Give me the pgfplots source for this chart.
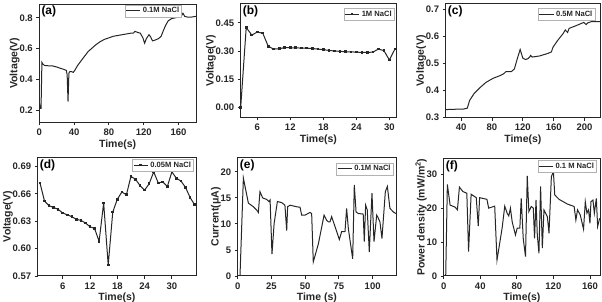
\documentclass[border=0pt]{standalone}
\usepackage{pgfplots}
\pgfplotsset{compat=1.18}
\usepackage{fontspec}
\setmainfont{Liberation Sans}
\tikzset{plabel/.style={anchor=north west, font=\fontsize{12}{14}\selectfont\bfseries, inner sep=2pt}}
\pgfplotsset{
  panel/.style={
    scale only axis, anchor=south west,
    axis line style={line width=1pt, black!85},
    tick style={line width=0.9pt, black!85},
    tick align=outside, xtick pos=bottom, ytick pos=left,
    major tick length=3pt,
    tick label style={font=\fontsize{9.5}{11}\selectfont\bfseries, black!85},
    label style={font=\fontsize{10.5}{12}\selectfont\bfseries, black!85},
    xlabel style={yshift=3pt},
    ylabel style={yshift=-7pt},
    /pgf/number format/assume math mode=true,
    legend style={anchor=north east, draw=gray!60, line width=0.4pt,
      font=\fontsize{7.6}{8}\selectfont\bfseries, inner sep=0.5pt, fill=white, text=black!85},
    legend cell align=left,
  },
  lineleg/.style={legend image code/.code={\draw[##1] (0cm,0cm) -- (0.5cm,0cm);}},
  markleg/.style={legend image code/.code={\draw[mark repeat=2,mark phase=2,##1] plot coordinates {(0cm,0cm)(0.25cm,0cm)(0.5cm,0cm)};}},
  ln/.style={black!85, line width=1pt},
}
\begin{document}
\begin{tikzpicture}
\useasboundingbox (0,0) rectangle (602pt,302pt);
% (a)
\begin{axis}[panel, lineleg, at={(39.3pt,179.7pt)}, width=156.7pt, height=118.3pt,
  xmin=0, xmax=180, ymin=0.12, ymax=0.89,
  xtick={0,40,80,120,160}, ytick={0.2,0.4,0.6,0.8},
  yticklabel style={/pgf/number format/.cd, fixed, fixed zerofill, precision=1},
  xlabel={Time(s)}, ylabel={Voltage(V)}, legend style={at={(0.91,0.995)}}]
\addplot[ln] coordinates {(0,0.25)(1,0.21)(2,0.21)(3,0.51)(4,0.50)(6,0.49)(10,0.488)(15,0.487)(20,0.48)(25,0.47)(28,0.465)(30,0.46)(31,0.458)(32,0.43)(33,0.255)(34,0.44)(35,0.45)(37,0.45)(39,0.445)(41,0.46)(44,0.49)(48,0.52)(52,0.55)(56,0.58)(60,0.60)(65,0.625)(70,0.645)(75,0.66)(80,0.67)(85,0.68)(90,0.685)(95,0.69)(100,0.695)(105,0.70)(108,0.70)(110,0.712)(113,0.705)(116,0.70)(119,0.67)(121,0.635)(123,0.665)(126,0.69)(128,0.675)(130,0.65)(133,0.655)(137,0.665)(140,0.68)(142,0.71)(145,0.75)(148,0.78)(152,0.795)(156,0.80)(160,0.805)(163,0.81)(165,0.83)(167,0.81)(170,0.805)(175,0.805)(180,0.81)};
\addlegendentry{0.1M NaCl}
\node[plabel] at (rel axis cs:0,1) {(a)};
\end{axis}
% (b)
\begin{axis}[panel, markleg, at={(240.7pt,184.7pt)}, width=155.3pt, height=113.3pt,
  xmin=3, xmax=31.2, ymin=-0.053, ymax=0.55,
  xtick={6,12,18,24,30}, ytick={0,0.15,0.30,0.45},
  yticklabel style={/pgf/number format/.cd, fixed, fixed zerofill, precision=2},
  xlabel={Time(s)}, ylabel={Voltage(V)}, legend style={at={(0.99,0.965)}}]
\addplot[ln, mark=square*, mark size=0.8pt] coordinates {(3,0.00)(4,0.425)(5,0.385)(6,0.40)(7,0.395)(8,0.325)(9,0.31)(10,0.312)(11,0.318)(12,0.317)(13,0.317)(14,0.315)(15,0.315)(16,0.313)(17,0.31)(18,0.307)(19,0.303)(20,0.30)(21,0.298)(22,0.296)(23,0.295)(24,0.294)(25,0.292)(26,0.292)(27,0.294)(28,0.31)(29,0.302)(30,0.252)(31,0.31)};
\addlegendentry{1M NaCl}
\node[plabel] at (rel axis cs:0,1) {(b)};
\end{axis}
% (c)
\begin{axis}[panel, lineleg, at={(445.7pt,184.3pt)}, width=154.3pt, height=113.7pt,
  xmin=20, xmax=220, ymin=0.3, ymax=0.72,
  xtick={40,80,120,160,200}, ytick={0.3,0.4,0.5,0.6,0.7},
  yticklabel style={/pgf/number format/.cd, fixed, fixed zerofill, precision=1},
  xlabel={Time(s)}, ylabel={Voltage(V)}, legend style={at={(0.968,0.962)}}]
\addplot[ln] coordinates {(20,0.33)(30,0.331)(43,0.332)(48,0.335)(51,0.364)(57,0.39)(64,0.41)(72,0.43)(81,0.445)(90,0.455)(95,0.462)(98,0.47)(105,0.47)(109,0.48)(113,0.52)(116.5,0.552)(120,0.52)(123.5,0.515)(126.5,0.518)(129,0.525)(130,0.53)(132,0.524)(141.6,0.528)(152,0.537)(157,0.543)(159,0.56)(165,0.585)(172,0.61)(175,0.624)(178,0.615)(180,0.63)(189,0.64)(199,0.652)(202,0.644)(204,0.65)(209,0.655)(220,0.655)};
\addlegendentry{0.5M NaCl}
\node[plabel] at (rel axis cs:0,1) {(c)};
\end{axis}
% (d)
\begin{axis}[panel, markleg, at={(37.7pt,26pt)}, width=158.3pt, height=118.7pt,
  xmin=0.5, xmax=35.3, ymin=0.57, ymax=0.70,
  xtick={6,12,18,24,30}, ytick={0.57,0.60,0.63,0.66,0.69},
  yticklabel style={/pgf/number format/.cd, fixed, fixed zerofill, precision=2},
  xlabel={Time(s)}, ylabel={Voltage(V)}, legend style={at={(0.985,0.986)}}]
\addplot[ln, mark=square*, mark size=0.8pt] coordinates {(1,0.672)(2,0.652)(3,0.647)(4,0.645)(5,0.643)(6,0.639)(7,0.637)(8,0.635)(9,0.632)(10,0.631)(11,0.628)(12,0.624)(13,0.622)(14,0.608)(15,0.650)(16,0.582)(17,0.640)(18,0.654)(19,0.662)(20,0.659)(21,0.679)(22,0.676)(23,0.669)(24,0.664)(25,0.671)(26,0.684)(27,0.672)(28,0.673)(29,0.668)(30,0.684)(31,0.677)(32,0.674)(33,0.667)(34,0.656)(35,0.648)};
\addlegendentry{0.05M NaCl}
\node[plabel] at (rel axis cs:0,1) {(d)};
\end{axis}
% (e)
\begin{axis}[panel, lineleg, at={(237.7pt,26pt)}, width=158.3pt, height=118.7pt,
  xmin=0, xmax=117.3, ymin=0, ymax=22.8,
  xtick={0,25,50,75,100}, ytick={0,5,10,15,20},
  xlabel={Time (s)}, ylabel={Current(μA)}, legend style={at={(0.983,0.955)}}]
\addplot[ln] coordinates {(0,0)(1.7,0)(4.2,18.8)(7.9,14)(11.6,13.3)(14,12.7)(15.3,12.2)(16.5,16.2)(18.5,15)(21.5,14.7)(23.2,14.3)(24,14.6)(25.4,4.2)(27,10.1)(29.4,14.3)(32.6,14.1)(35,13.6)(36.3,8.7)(37,13.3)(38.8,13.6)(43.7,13.3)(46.2,13.2)(47.4,11.7)(49.9,11.7)(53.6,12.2)(54.8,12)(56,2.7)(59.8,6.2)(64,11.7)(65.9,10.7)(67.2,10.4)(68.4,10.4)(69.6,11.4)(72.1,9.5)(75.3,7)(77,8.5)(79.5,8.5)(80.7,13)(82,9.1)(85.2,3.3)(86.4,17.5)(87.7,12.3)(89.4,12)(93,11.9)(93.8,6.6)(94.8,13.6)(96,12.7)(97.5,4.6)(99.5,15.9)(101,6.6)(103,11.7)(104.2,11.1)(105.4,10.4)(106.9,7.2)(109.4,16.2)(110.9,17.2)(112.8,13)(115.3,12.3)(117.3,12)};
\addlegendentry{0.1M NaCl}
\node[plabel] at (rel axis cs:0,1) {(e)};
\end{axis}
% (f)
\begin{axis}[panel, lineleg, at={(443.7pt,26pt)}, width=156.3pt, height=117.7pt,
  xmin=0, xmax=171, ymin=0, ymax=34.7,
  xtick={0,40,80,120,160}, ytick={0,10,20,30},
  xlabel={Time(s)}, ylabel={Power density (mW/m\textsuperscript{2})}, legend style={at={(0.979,0.986)}}]
\addplot[ln] coordinates {(0,0)(2.2,0)(4,27)(7,20.9)(12.5,20.3)(15,19.5)(17.2,26.2)(21,24.9)(25.3,24.4)(27.2,7.2)(30,24.1)(35.6,23.1)(37.8,14.7)(39.3,23.1)(47.3,22.6)(49.2,20)(55.8,20.6)(58.3,4.7)(63.9,14.1)(66.8,20.6)(69.4,18.5)(71.2,17.7)(73,20)(74.9,16)(78.5,12.1)(80.4,14.1)(83.3,14.1)(84.8,22.9)(87,11.1)(89.5,5.7)(91.4,29.5)(93.2,19)(95.8,20.5)(98,20)(99.4,11.1)(101,22.4)(102.4,12.1)(104.2,6.7)(106,26.4)(107.9,8.2)(109.7,19.5)(113.4,17.5)(115.2,12.6)(117.8,29.3)(120,30.8)(121.5,23.9)(126.2,22.6)(135.4,21.2)(142.7,20.5)(144.6,16.5)(146.4,19.5)(149.4,18)(153,13.8)(154.9,21.9)(156.7,18.5)(158.5,19.5)(160,15.5)(161.1,21.9)(163.3,22.4)(164.8,18.5)(167,22.9)(168.4,14.6)(170.6,17)};
\addlegendentry{0.1 M NaCl}
\node[plabel] at (rel axis cs:0,1) {(f)};
\end{axis}
\end{tikzpicture}
\end{document}
